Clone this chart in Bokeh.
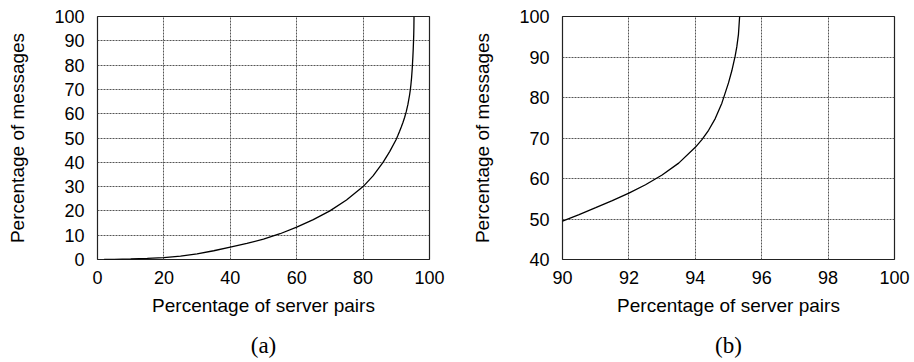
from bokeh.plotting import figure
from bokeh.layouts import row
from bokeh.models import Range1d, FixedTicker, Title
from bokeh.embed import file_html
from bokeh.resources import INLINE

# CDF: percentage of server pairs vs percentage of messages
pairs_pct = [2, 5, 10, 15, 20, 25, 30, 35, 40, 45, 50, 55, 60, 65, 70, 75, 80, 83, 86, 88,
             90, 90.5, 91, 91.5, 92, 92.5, 93, 93.5, 94, 94.2, 94.4, 94.6, 94.8, 95.0,
             95.1, 95.2, 95.25, 95.3, 95.335]
msgs_pct = [0, 0.05, 0.2, 0.45, 0.8, 1.4, 2.3, 3.6, 5.1, 6.6, 8.4, 10.6, 13.3, 16.4, 20.0,
            24.5, 30.0, 34.4, 40.0, 44.4, 49.5, 51.1, 52.8, 54.55, 56.4, 58.45, 60.85, 63.8,
            67.7, 69.6, 71.9, 74.8, 78.6, 83.6, 86.6, 90.2, 92.5, 95.6, 100]

a_xticks = [0, 20, 40, 60, 80, 100]
a_yticks = [0, 10, 20, 30, 40, 50, 60, 70, 80, 90, 100]
b_xticks = [90, 92, 94, 96, 98, 100]
b_yticks = [40, 50, 60, 70, 80, 90, 100]

x_label = "Percentage of server pairs"
y_label = "Percentage of messages"

SANS = "Liberation Sans"
SERIF = "Liberation Serif"


def make_panel(xr, yr, xt, yt, caption, border_left, border_right, cap_offset):
    p = figure(frame_width=332, frame_height=243,
               x_range=Range1d(*xr), y_range=Range1d(*yr),
               output_backend="svg", toolbar_location=None,
               min_border_left=border_left, min_border_right=border_right,
               min_border_top=16, min_border_bottom=0)
    p.line(pairs_pct, msgs_pct, line_color="black", line_width=1.3)

    p.xaxis.ticker = FixedTicker(ticks=xt)
    p.yaxis.ticker = FixedTicker(ticks=yt)
    for ax in (p.xaxis, p.yaxis):
        ax.major_tick_in = 0
        ax.major_tick_out = 0
        ax.minor_tick_in = 0
        ax.minor_tick_out = 0
        ax.axis_line_color = None
        ax.major_label_text_font = SANS
        ax.major_label_text_font_size = "18px"
        ax.major_label_text_color = "black"
        ax.axis_label_text_font = SANS
        ax.axis_label_text_font_size = "19px"
        ax.axis_label_text_font_style = "normal"
        ax.axis_label_text_color = "black"
    p.xaxis.axis_label = x_label
    p.yaxis.axis_label = y_label
    p.xaxis.major_label_standoff = 11
    p.xaxis.axis_label_standoff = 8
    p.yaxis.major_label_standoff = 13
    p.yaxis.axis_label_standoff = 23

    p.grid.grid_line_color = "#555555"
    p.grid.grid_line_dash = "2 1"
    p.grid.grid_line_width = 1

    p.outline_line_color = "#222222"
    p.outline_line_width = 1.2
    p.background_fill_color = "white"
    p.border_fill_color = "white"

    p.add_layout(Title(text=caption, text_font=SERIF, text_font_size="23px",
                       text_font_style="normal", text_color="black",
                       align="center", offset=cap_offset, standoff=24), "below")
    return p


pa = make_panel((0, 100), (0, 100), a_xticks, a_yticks, "(a)", 97, 25, -34)
pb = make_panel((90, 100), (40, 100), b_xticks, b_yticks, "(b)", 108, 16, -38)

layout = row(pa, pb)
open("out.html", "w").write(file_html(layout, INLINE))
